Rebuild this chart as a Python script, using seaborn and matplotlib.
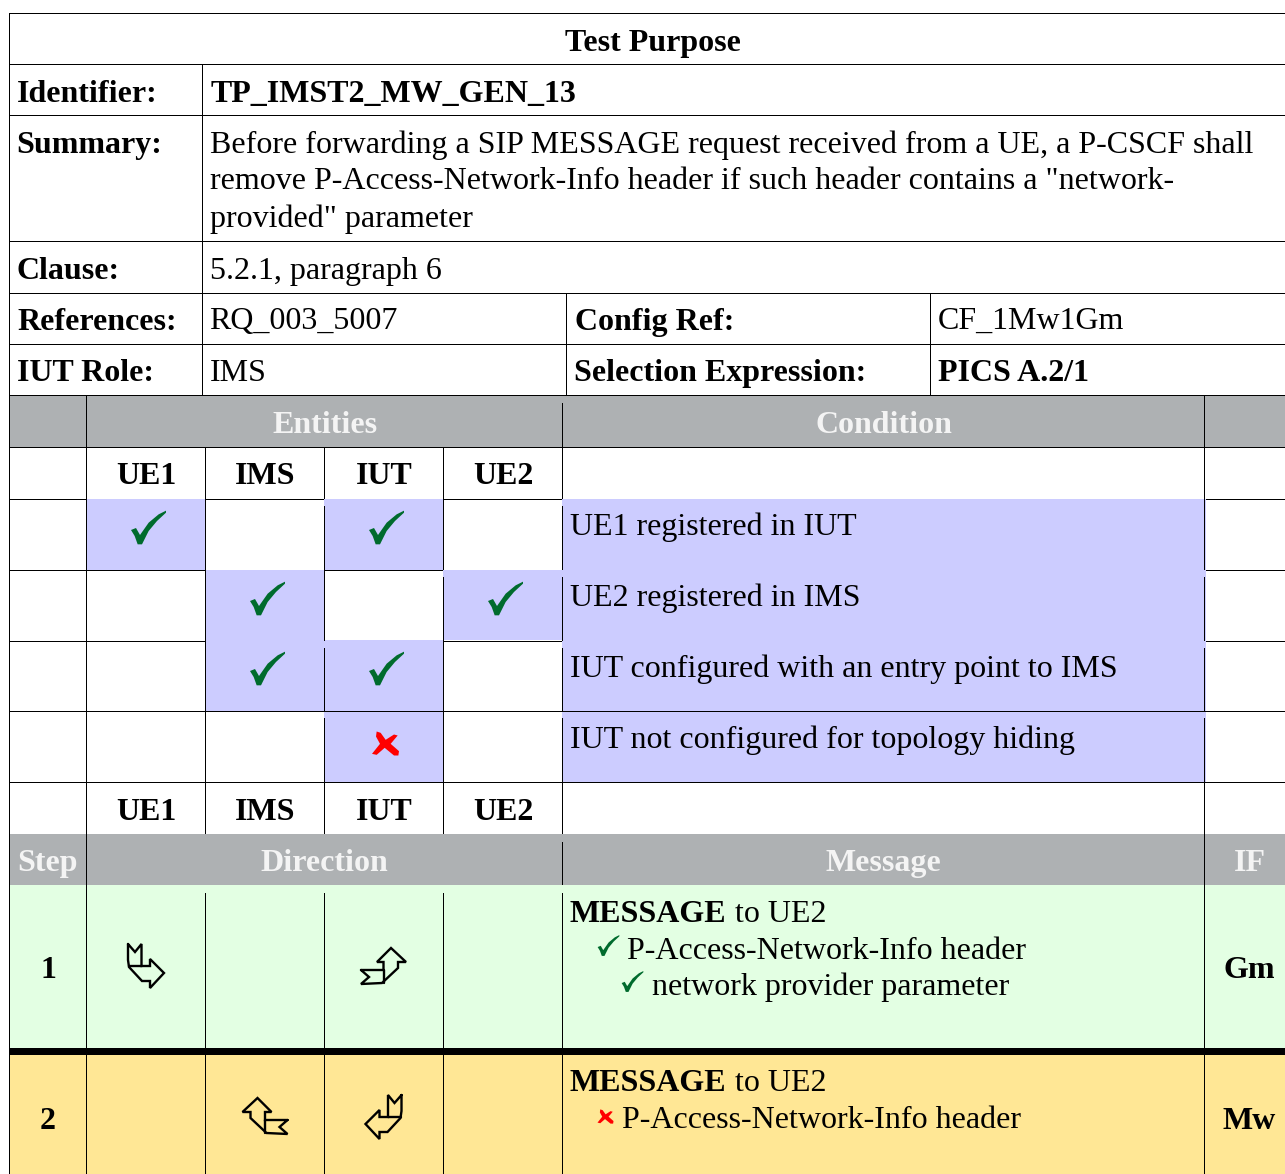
import matplotlib
matplotlib.use("Agg")
import matplotlib.pyplot as plt
from matplotlib.colors import ListedColormap
from matplotlib.patches import Rectangle
from matplotlib.path import Path
import numpy as np
import seaborn as sns

# =========================
# Data
# =========================
entities = ["UE1", "IMS", "IUT", "UE2"]
conditions = [
    "UE1 registered in IUT",
    "UE2 registered in IMS",
    "IUT configured with an entry point to IMS",
    "IUT not configured for topology hiding",
]
# 1 = check, -1 = cross, 0 = empty
condition_marks = [
    [1, 0, 1, 0],
    [0, 1, 0, 1],
    [0, 1, 1, 0],
    [0, 0, -1, 0],
]
summary_lines = [
    "Before forwarding a SIP MESSAGE request received from a UE, a P-CSCF shall",
    'remove P-Access-Network-Info header if such header contains a "network-',
    'provided" parameter',
]
step_ids = ["1", "2"]
step_ifs = ["Gm", "Mw"]

# =========================
# Settings
# =========================
W, H = 1285, 1174
GREY = "#AEB1B3"
BLUE = "#CCCCFF"
GREEN = "#E3FFE3"
YELLOW = "#FFE795"
CHECK = "#006B2D"
RED = "#FF0000"
HEAD = "#F4F4F4"
FS = 23.0
SERIF = "Liberation Serif"

sns.set_theme(style="white")
plt.rcParams["font.family"] = [SERIF, "DejaVu Sans"]

fig = plt.figure(figsize=(W / 100, H / 100), dpi=100, facecolor="white")
ax = fig.add_axes([0, 0, 1, 1], zorder=2)
ax.set_xlim(0, W)
ax.set_ylim(H, 0)
ax.axis("off")

COLS = [86, 205, 324, 443, 562, 1204]


def fill(x0, y0, x1, y1, color):
    ax.add_patch(Rectangle((x0, y0), x1 - x0, y1 - y0, fc=color, ec="none", zorder=1))


def hline(y, x0=9, x1=W):
    ax.add_patch(Rectangle((x0, y), x1 - x0, 1, fc="black", ec="none", zorder=3))


def vline(x, y0, y1):
    ax.add_patch(Rectangle((x, y0), 1, y1 - y0, fc="black", ec="none", zorder=3))


def txt(x, y, s, bold=False, color="black", ha="left", size=FS):
    ax.text(x, y, s, fontsize=size, family=SERIF, ha=ha, va="baseline", color=color,
            fontweight="bold" if bold else "normal", zorder=4)


def glyph_marker(outline):
    # outline is traced with y down, markers want y up and a centred box
    pts = np.array(outline, dtype=float)
    pts = pts - (pts.max(axis=0) + pts.min(axis=0)) / 2
    pts[:, 1] *= -1
    return Path(np.vstack([pts, pts[:1]]), closed=True)


check_marker = glyph_marker([(507, 122), (522, 116), (534, 137), (560, 100), (590, 75), (612, 64),
                             (612, 70), (585, 95), (560, 125), (540, 165), (527, 165), (518, 140)])
cross_marker = glyph_marker([(228, 93), (240, 97), (255, 118), (280, 102), (291, 105), (270, 130),
                             (295, 152), (293, 165), (280, 165), (252, 142), (228, 163), (214, 160),
                             (238, 130), (226, 108)])

# =========================
# Coloured areas
# =========================
fill(9, 395, W, 447, GREY)
fill(9, 834, W, 885, GREY)
fill(9, 885, W, 1048, GREEN)
fill(9, 1055, W, H, YELLOW)
fill(562, 499, 1206, 782, BLUE)

# Entity matrix goes through seaborn
hm_ax = fig.add_axes([COLS[0] / W, 1 - 782 / H, (COLS[4] - COLS[0]) / W, (782 - 499) / H], zorder=1)
marks = np.array(condition_marks)
sns.heatmap(np.abs(marks), ax=hm_ax, cmap=ListedColormap(["white", BLUE]), vmin=0, vmax=1,
            cbar=False, xticklabels=False, yticklabels=False)
rows, cols = np.where(marks == 1)
sns.scatterplot(x=cols + 0.517, y=rows + 0.394, ax=hm_ax, marker=check_marker, s=635,
                color=CHECK, linewidth=0)
rows, cols = np.where(marks == -1)
sns.scatterplot(x=cols + 0.511, y=rows + 0.45, ax=hm_ax, marker=cross_marker, s=378,
                color=RED, linewidth=0)

# =========================
# Top block
# =========================
for y in [13, 64, 115, 241, 293, 344, 395]:
    hline(y)
vline(9, 13, 395)
vline(202, 64, 395)
vline(566, 293, 395)
vline(930, 293, 395)

txt(652.5, 50.5, "Test Purpose", bold=True, ha="center")
txt(17, 102, "Identifier:", bold=True)
txt(211, 102, "TP_IMST2_MW_GEN_13", bold=True)
txt(16.5, 153, "Summary:", bold=True)
for y, line in zip([153, 189, 227], summary_lines):
    txt(210, y, line)
txt(17, 279, "Clause:", bold=True)
txt(210, 279, "5.2.1, paragraph 6")
txt(17, 330, "References:", bold=True)
txt(209.5, 329, "RQ_003_5007")
txt(575, 330, "Config Ref:", bold=True)
txt(938, 329, "CF_1Mw1Gm")
txt(17, 381, "IUT Role:", bold=True)
txt(210, 381, "IMS")
txt(574, 381, "Selection Expression:", bold=True)
txt(938, 381, "PICS A.2/1", bold=True)

# =========================
# Conditions
# =========================
txt(325, 433, "Entities", bold=True, color=HEAD, ha="center")
txt(884, 433, "Condition", bold=True, color=HEAD, ha="center")
for y in [447, 782]:
    hline(y)

# Row borders, hidden on top of the blue cells
hline(499, 9, 86)
hline(499, 205, 324)
hline(499, 443, 562)
hline(499, 1206)
hline(570, 9, 205)
hline(570, 324, 443)
hline(570, 1206)
hline(641, 9, 205)
hline(641, 443, 562)
hline(641, 1206)
hline(711)

vline(9, 395, 1174)
vline(86, 395, 1174)
vline(205, 447, 834)
vline(324, 447, 499)
vline(324, 506, 641)
vline(324, 648, 711)
vline(324, 718, 834)
vline(443, 447, 570)
vline(443, 577, 834)
for y0, y1 in [(403, 499), (506, 570), (577, 641), (648, 711), (718, 834)]:
    vline(562, y0, y1)
vline(1204, 395, 570)
vline(1204, 577, 641)
vline(1204, 648, 711)
vline(1204, 718, H)

for i, name in enumerate(entities):
    cx = (COLS[i] + COLS[i + 1]) / 2 + 1
    txt(cx, 484, name, bold=True, ha="center")
    txt(cx, 820, name, bold=True, ha="center")
for y, cond in zip([535, 606, 677, 748], conditions):
    txt(570, y, cond)

# =========================
# Steps
# =========================
txt(47.5, 871, "Step", bold=True, color=HEAD, ha="center")
txt(324, 871, "Direction", bold=True, color=HEAD, ha="center")
txt(883.5, 871, "Message", bold=True, color=HEAD, ha="center")
txt(1250, 871, "IF", bold=True, color=HEAD, ha="center")

for x in COLS[1:5]:
    vline(x, 893, H)
vline(562, 842, 885)
ax.add_patch(Rectangle((9, 1048), W - 9, 7, fc="black", ec="none", zorder=3))

for y, step, ifc in zip([978, 1129], step_ids, step_ifs):
    txt(48, y, step, bold=True, ha="center")
    txt(1249.5, y, ifc, bold=True, ha="center")

txt(570, 922, "MESSAGE", bold=True)
txt(735, 922, "to UE2")
txt(627, 959, "P-Access-Network-Info header")
txt(652, 995, "network provider parameter")
txt(570, 1091, "MESSAGE", bold=True)
txt(735, 1091, "to UE2")
txt(622, 1128, "P-Access-Network-Info header")
sns.scatterplot(x=[607.5, 631.5], y=[945, 981], ax=ax, marker=check_marker, s=244,
                color=CHECK, linewidth=0, zorder=4)
sns.scatterplot(x=[604.7], y=[1116], ax=ax, marker=cross_marker, s=133,
                color=RED, linewidth=0, zorder=4)

# Folded arrow glyphs
arrow_a = [(128, 54), (135, 62), (141.5, 54), (141.5, 76), (150, 76), (150, 69), (164, 83), (150, 98),
           (150, 91), (142, 91), (129, 77), (128, 70), (128, 54)]
arrow_a_inner = [(129, 76), (141.5, 76)]
arrow_b = [(361, 80), (383.5, 80), (383.5, 72), (377, 72), (391, 58), (406, 72), (398, 72), (398, 78),
           (382, 93), (361, 94), (369, 87), (361, 80)]
arrow_b_inner = [(383.5, 80), (383.5, 93)]


def draw_arrow(points, inner, dy, mirror=None):
    xs = np.array([p[0] for p in points], dtype=float)
    ys = np.array([p[1] for p in points], dtype=float) + dy
    ix = np.array([p[0] for p in inner], dtype=float)
    iy = np.array([p[1] for p in inner], dtype=float) + dy
    if mirror is not None:
        xs = mirror - xs
        ix = mirror - ix
    ax.plot(xs, ys, color="black", lw=1.7, zorder=4, solid_joinstyle="miter")
    ax.plot(ix, iy, color="black", lw=1.7, zorder=4)


draw_arrow(arrow_a, arrow_a_inner, 890)
draw_arrow(arrow_b, arrow_b_inner, 890)
draw_arrow(arrow_b, arrow_b_inner, 1040, 648.5)
draw_arrow(arrow_a, arrow_a_inner, 1041, 529.5)

ax.set_xlim(0, W)
ax.set_ylim(H, 0)
fig.savefig("out.png", dpi=100)
